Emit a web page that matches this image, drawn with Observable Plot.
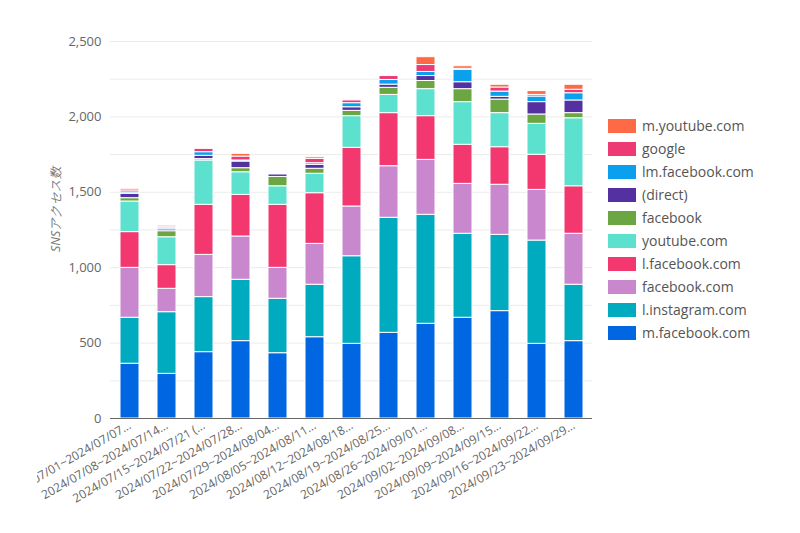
<!DOCTYPE html>
<html>
<head>
<meta charset="utf-8">
<script src="https://cdn.jsdelivr.net/npm/d3@7"></script>
<script src="https://cdn.jsdelivr.net/npm/@observablehq/plot@0.6"></script>
<style>
  html, body { margin: 0; padding: 0; background: #fff; }
  body { width: 800px; height: 533px; position: relative; overflow: hidden; font-family: "Open Sans", sans-serif; }
  #chart { position: absolute; left: 37px; top: 0; }
  #legend { position: absolute; left: 608px; top: 114px; }
  .row { display: flex; align-items: center; height: 23px; font-size: 14px; color: #555; }
  .sw { width: 28px; height: 14px; margin-right: 6px; }
</style>
</head>
<body>
<div id="chart"></div>
<div id="legend"></div>
<script>
const weeks = [
  "2024/07/01~2024/07/07…",
  "2024/07/08~2024/07/14…",
  "2024/07/15~2024/07/21 (…",
  "2024/07/22~2024/07/28…",
  "2024/07/29~2024/08/04…",
  "2024/08/05~2024/08/11…",
  "2024/08/12~2024/08/18…",
  "2024/08/19~2024/08/25…",
  "2024/08/26~2024/09/01…",
  "2024/09/02~2024/09/08…",
  "2024/09/09~2024/09/15…",
  "2024/09/16~2024/09/22…",
  "2024/09/23~2024/09/29…"
];
const sources = ["m.facebook.com","l.instagram.com","facebook.com","l.facebook.com","youtube.com","facebook","(direct)","lm.facebook.com","google","m.youtube.com"];
const colors  = ["#0166e2","#00abc0","#c987cd","#f2386e","#5ce1cf","#6ba643","#5430a1","#0ba0ee","#ee3a74","#fe6a45"];

const mFacebookCom  = [363,296,440,513,433,539,495,568,628,668,712,495,513];
const lInstagramCom = [305,409,365,407,361,348,581,763,723,557,506,685,374];
const facebookCom   = [331,155,280,287,205,271,330,342,364,331,332,336,338];
const lFacebookCom  = [237,157,332,276,418,336,389,352,290,259,249,233,315];
const youtubeCom    = [203,185,294,150,123,129,210,121,179,283,226,205,451];
const facebook      = [22,40,9,27,62,33,35,47,54,86,90,62,34];
const direct        = [29,12,22,44,16,26,24,21,33,46,18,82,84];
const lmFacebookCom = [9,8,24,7,0,11,27,31,27,82,35,37,48];
const google        = [13,10,22,26,0,29,18,26,46,7,27,11,23];
const mYoutubeCom   = [11,8,0,18,0,11,0,0,52,17,18,25,33];

const yTicks = [0, 500, 1000, 1500, 2000, 2500];

const seriesValues = [mFacebookCom,lInstagramCom,facebookCom,lFacebookCom,youtubeCom,facebook,direct,lmFacebookCom,google,mYoutubeCom];

const data = [];
sources.forEach((s, i) => {
  weeks.forEach((w, j) => {
    const v = seriesValues[i][j];
    if (v > 0) data.push({week: w, source: s, value: v});
  });
});

const yLabel = "SNSアクセス数";

const chart = Plot.plot({
  width: 763,
  height: 533,
  marginLeft: 73,
  marginRight: 208,
  marginTop: 41,
  marginBottom: 115,
  style: {fontFamily: "'Open Sans', sans-serif", fontSize: "12px", color: "#666", background: "#fff"},
  x: {domain: weeks, paddingInner: 0.49, paddingOuter: 0.23, label: null},
  y: {domain: [0, 2500], label: null},
  color: {domain: sources, range: colors},
  marks: [
    Plot.gridY(d3.range(250, 2501, 250), {stroke: "#ebebeb", strokeOpacity: 1}),
    Plot.barY(data, {x: "week", y: "value", fill: "source", order: sources, stroke: "white", strokeWidth: 1}),
    Plot.ruleY([0], {stroke: "#666", strokeWidth: 1.2}),
    Plot.axisY({ticks: yTicks, tickSize: 0, tickPadding: 9, tickFormat: d3.format(","), fontSize: 13, fill: "#666", label: null}),
    Plot.axisX({tickSize: 0, tickPadding: 6, tickRotate: -30, fontSize: 12, fill: "#666", label: null}),
    Plot.text([yLabel], {frameAnchor: "left", rotate: -90, dx: -55, dy: 22, fontSize: 12.5, fill: "#777", fontStyle: "italic"})
  ]
});
document.getElementById("chart").appendChild(chart);

const legend = document.getElementById("legend");
for (let i = sources.length - 1; i >= 0; i--) {
  const row = document.createElement("div");
  row.className = "row";
  const sw = document.createElement("div");
  sw.className = "sw";
  sw.style.background = colors[i];
  const t = document.createElement("span");
  t.textContent = sources[i];
  row.appendChild(sw);
  row.appendChild(t);
  legend.appendChild(row);
}
</script>
</body>
</html>
